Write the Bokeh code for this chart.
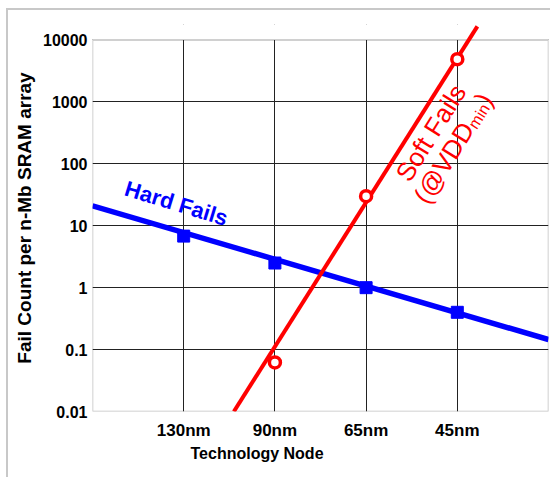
import math
from bokeh.plotting import figure
from bokeh.models import Range1d, FixedTicker, BoxAnnotation, Label, Title
from bokeh.embed import file_html
from bokeh.resources import INLINE

# ---- data ----
nodes = ["130nm", "90nm", "65nm", "45nm"]
hard_fails = [6.8, 2.5, 1.0, 0.40]
soft_nodes = ["90nm", "65nm", "45nm"]
soft_fails = [0.062, 30, 4900]
# fitted trend lines (position on node axis, value)
hard_trend_pos = [0.0, 5.0]
hard_trend_val = [21.0, 0.145]
soft_trend_pos = [1.55, 4.22]
soft_trend_val = [0.01, 16600.0]
y_ticks = [0.01, 0.1, 1, 10, 100, 1000, 10000]
y_tick_labels = ["0.01", "0.1", "1", "10", "100", "1000", "10000"]

node_pos = {n: i + 1 for i, n in enumerate(nodes)}
hard_x = [node_pos[n] for n in nodes]
soft_x = [node_pos[n] for n in soft_nodes]

FONT = "Liberation Sans"

p = figure(width=550, height=477, output_backend="svg", toolbar_location=None,
           x_range=Range1d(0, len(nodes) + 1),
           y_range=Range1d(y_ticks[0], 10 ** 4.25), y_axis_type="log",
           min_border_left=92, min_border_right=2, min_border_top=24,
           min_border_bottom=66, background_fill_color="white",
           border_fill_color=None)
p.outline_line_color = None
p.styles = {"background": "linear-gradient(#c8c8c8,#c8c8c8) 7px 8px / calc(100% - 7px) 2px no-repeat, "
                          "linear-gradient(#c8c8c8,#c8c8c8) 6px 8px / 2px calc(100% - 8px) no-repeat, #ffffff"}

# axes
p.xaxis.ticker = FixedTicker(ticks=hard_x)
p.xaxis.major_label_overrides = {node_pos[n]: n for n in nodes}
p.yaxis.ticker = FixedTicker(ticks=y_ticks)
p.yaxis.major_label_overrides = {t: l for t, l in zip(y_ticks, y_tick_labels)}
p.yaxis.bounds = (y_ticks[0], y_ticks[-1])
for ax in (p.xaxis, p.yaxis):
    ax.axis_line_color = None
    ax.major_tick_line_color = None
    ax.minor_tick_line_color = None
    ax.major_tick_out = 0
    ax.major_tick_in = 0
    ax.major_label_text_font = FONT
    ax.major_label_text_font_style = "bold"
    ax.major_label_text_color = "#000000"
p.xaxis.major_label_text_font_size = "17px"
p.yaxis.major_label_text_font_size = "16px"
p.xaxis.major_label_standoff = 9
p.yaxis.major_label_standoff = 5
p.yaxis.axis_label = "Fail Count per n-Mb SRAM array"
p.yaxis.axis_label_text_font = FONT
p.yaxis.axis_label_text_font_style = "bold"
p.yaxis.axis_label_text_font_size = "19px"
p.yaxis.axis_label_text_color = "#000000"
p.yaxis.axis_label_standoff = 5

for g in (p.xgrid, p.ygrid):
    g.grid_line_color = "#222222"
    g.grid_line_width = 1
    g.grid_line_alpha = 1

# white cover above the top decade so grid stops at 10000
cover = BoxAnnotation(bottom=y_ticks[-1], fill_color="white", fill_alpha=1,
                      line_color=None, level="underlay")
p.add_layout(cover)
frame_box = BoxAnnotation(top=y_ticks[-1], fill_color=None, line_color="#333333",
                          line_width=1.5, level="underlay")
p.add_layout(frame_box)

# hard fails
p.line(hard_trend_pos, hard_trend_val, line_color="#0000ff", line_width=5.5)
p.scatter(hard_x, hard_fails, marker="square", size=12, fill_color="#0000ff",
          line_color="#0000ff")
# soft fails
p.line(soft_trend_pos, soft_trend_val, line_color="#ff0000", line_width=4)
p.scatter(soft_x, soft_fails, marker="circle", size=11, fill_color="white",
          line_color="#ff0000", line_width=3.5)

# x axis title (placed off-centre as in the original)
p.add_layout(Title(text="Technology Node", align="left", offset=98, standoff=0,
                   text_font=FONT, text_font_style="bold", text_font_size="16px",
                   text_color="#000000"), "below")

# series labels
p.add_layout(Label(x=0.92, y=22.9, text="Hard Fails", angle=math.radians(-17),
                   text_align="center", text_baseline="middle", text_font=FONT,
                   text_font_style="bold", text_font_size="22px",
                   text_color="#0000ff"))

ang = math.radians(58)
d = (math.cos(ang), math.sin(ang))
pd = (math.sin(ang), -math.cos(ang))
p.add_layout(Label(x=3.71, y=316, text="Soft Fails", angle=ang,
                   text_align="center", text_baseline="middle", text_font=FONT,
                   text_font_size="26px", text_color="#ff0000"))
pieces = [("(@VDD", 26, 90.0, 0.0), ("min", 16, 25.8, 5.0), (")", 26, 8.7, 0.0)]
W = sum(pc[2] for pc in pieces)
cx, cy = 3.89, 206.0
start = (-d[0] * W / 2 + pd[0] * 7, -d[1] * W / 2 + pd[1] * 7)
acc = 0.0
for txt, fs, w, sub in pieces:
    ox = start[0] + d[0] * acc + pd[0] * sub
    oy = start[1] + d[1] * acc + pd[1] * sub
    p.add_layout(Label(x=cx, y=cy, x_offset=ox, y_offset=oy, text=txt, angle=ang,
                       text_align="left", text_baseline="alphabetic",
                       text_font=FONT, text_font_size=f"{fs}px",
                       text_color="#ff0000"))
    acc += w

open("out.html", "w").write(file_html(p, INLINE))
